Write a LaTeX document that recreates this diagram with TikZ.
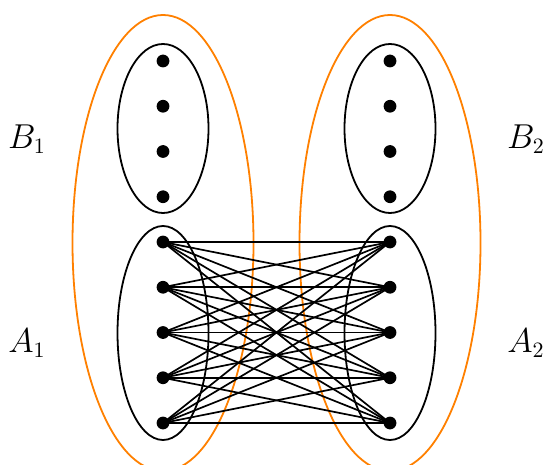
\documentclass[tikz,border=0pt]{standalone}
\begin{document}
\begin{tikzpicture}[x=0.5pt,y=-0.5pt,
  dot/.style={circle,fill=black,inner sep=0pt,minimum size=6.4pt},
  grp/.style={draw=black,line width=0.9pt},
  part/.style={draw=orange,line width=0.9pt},
  edge/.style={line width=0.85pt},
  lab/.style={font=\fontsize{16}{20}\selectfont}]
\useasboundingbox (0,0) rectangle (544,464);
\begin{scope}
\clip (0,0) rectangle (544,464);
\draw[part] (163,243) ellipse [x radius=90.5, y radius=228];
\draw[part] (390,243) ellipse [x radius=90.5, y radius=228];
\end{scope}
\draw[grp] (163,128.5) ellipse [x radius=45.5, y radius=84.5];
\draw[grp] (163,333) ellipse [x radius=45.5, y radius=107];
\draw[grp] (390,128.5) ellipse [x radius=45.5, y radius=84.5];
\draw[grp] (390,333) ellipse [x radius=45.5, y radius=107];
\foreach \i/\y in {1/61,2/106.25,3/151.5,4/196.75}{
  \node[dot] (lb\i) at (163,\y) {};
  \node[dot] (rb\i) at (390,\y) {};
}
\foreach \i/\y in {1/242,2/287.25,3/332.5,4/377.75,5/423}{
  \node[dot] (la\i) at (163,\y) {};
  \node[dot] (ra\i) at (390,\y) {};
}
\foreach \i in {1,...,5}{
  \foreach \j in {1,...,5}{
    \draw[edge] (la\i.center) -- (ra\j.center);
  }
}
\node[lab] (B1) at (27,139) {$B_1$};
\node[lab] (A1) at (27,343) {$A_1$};
\node[lab] (B2) at (526,139) {$B_2$};
\node[lab] (A2) at (526,343) {$A_2$};
\end{tikzpicture}
\end{document}
